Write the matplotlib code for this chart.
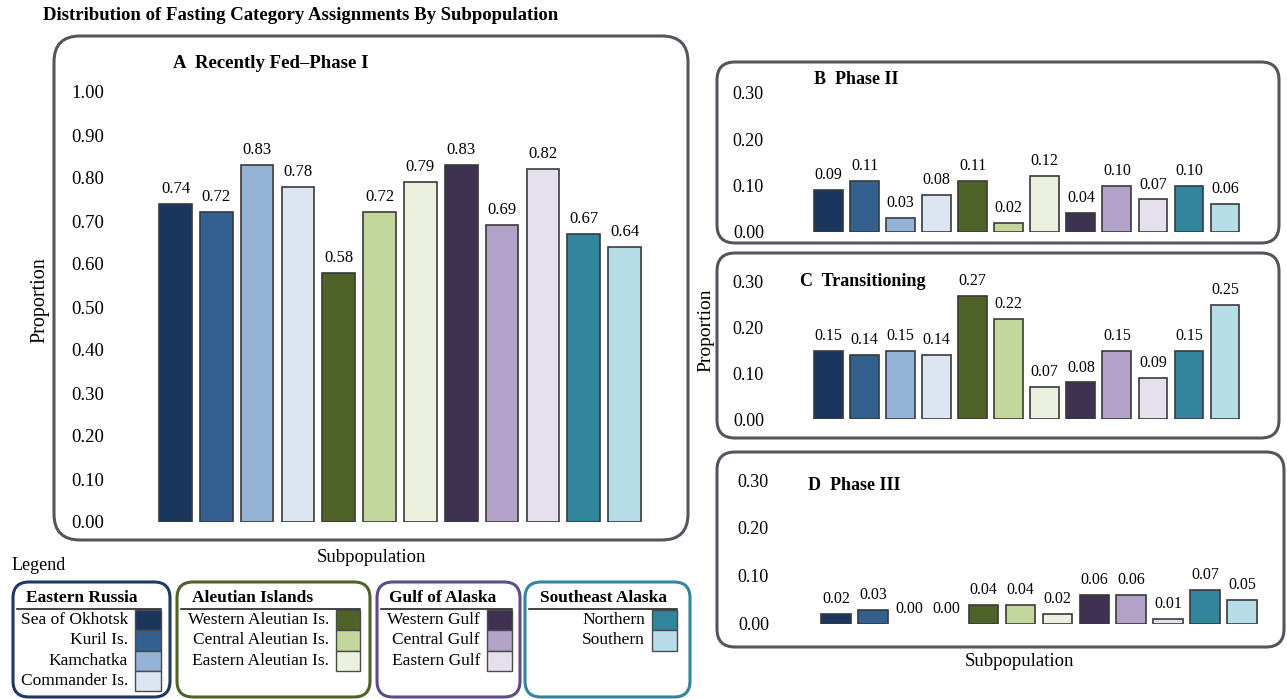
import matplotlib
matplotlib.use("Agg")
import matplotlib.pyplot as plt
from matplotlib.patches import FancyBboxPatch, Rectangle

plt.rcParams['font.family'] = ['Liberation Serif', 'DejaVu Serif']

# subpopulations in plotting order, grouped by region
regions = ['Eastern Russia', 'Aleutian Islands', 'Gulf of Alaska', 'Southeast Alaska']
region_members = [
    ['Sea of Okhotsk', 'Kuril Is.', 'Kamchatka', 'Commander Is.'],
    ['Western Aleutian Is.', 'Central Aleutian Is.', 'Eastern Aleutian Is.'],
    ['Western Gulf', 'Central Gulf', 'Eastern Gulf'],
    ['Northern', 'Southern'],
]
bar_colors = ['#1b365d', '#34608f', '#95b3d7', '#dce6f2',
              '#4f6228', '#c3d69b', '#ebf1de',
              '#3f3151', '#b3a2c7', '#e5e0ec',
              '#31859c', '#b7dee8']
region_edge = ['#1f3864', '#4f6228', '#5f4b8b', '#31859c']

recently_fed = [0.74, 0.72, 0.83, 0.78, 0.58, 0.72, 0.79, 0.83, 0.69, 0.82, 0.67, 0.64]
phase_2 = [0.09, 0.11, 0.03, 0.08, 0.11, 0.02, 0.12, 0.04, 0.10, 0.07, 0.10, 0.06]
transitioning = [0.15, 0.14, 0.15, 0.14, 0.27, 0.22, 0.07, 0.08, 0.15, 0.09, 0.15, 0.25]
phase_3 = [0.02, 0.03, 0.00, 0.00, 0.04, 0.04, 0.02, 0.06, 0.06, 0.01, 0.07, 0.05]

yticks_a = [0.0, 0.1, 0.2, 0.3, 0.4, 0.5, 0.6, 0.7, 0.8, 0.9, 1.0]
yticks_small = [0.0, 0.1, 0.2, 0.3]

W, H = 1287, 699
fig = plt.figure(figsize=(W / 100, H / 100), dpi=100)

# full-figure layer in pixel units for frames, titles and the legend
bg = fig.add_axes([0, 0, 1, 1])
bg.set_xlim(0, W)
bg.set_ylim(H, 0)
bg.axis('off')


def frame(x0, x1, y0, y1, color='#55555f', lw=2.2, r=22):
    bg.add_patch(FancyBboxPatch((x0, y0), x1 - x0, y1 - y0,
                                boxstyle=f"round,pad=0,rounding_size={r}",
                                fc='none', ec=color, lw=lw))


def bar_panel(values, yticks, c0, pitch, left, right, y0, ytop, tick_fs, val_fs):
    top = yticks[-1]
    ax = fig.add_axes([left / W, 1 - y0 / H, (right - left) / W, (y0 - ytop) / H])
    ax.patch.set_alpha(0)
    x = list(range(len(values)))
    # zero-height bars get no outline
    edges = ['#3a3a3a' if v > 0 else 'none' for v in values]
    ax.bar(x, values, width=0.8, color=bar_colors, edgecolor=edges, lw=1.2)
    for xi, v in zip(x, values):
        ax.annotate(f"{v:.2f}", (xi, v), xytext=(0, 5), textcoords='offset points',
                    ha='center', va='bottom', fontsize=val_fs)
    ax.set_xlim((left - c0) / pitch, (right - c0) / pitch)
    ax.set_ylim(0, top)
    ax.set_yticks(yticks)
    ax.set_yticklabels([f"{t:.2f}" for t in yticks], fontsize=tick_fs)
    ax.tick_params(axis='y', length=0, pad=8)
    ax.set_xticks([])
    for s in ax.spines.values():
        s.set_visible(False)
    return ax


# panel A
frame(54, 688, 36, 540, r=26)
bar_panel(recently_fed, yticks_a, 175.5, 40.82, 115, 662, 522, 92, 13.5, 12)
bg.text(173, 64, "A  Recently Fed\u2013Phase I", fontsize=13.5, fontweight='bold', va='center')
bg.text(40, 300, "Proportion", fontsize=14.5, rotation=90, ha='center', va='center')
bg.text(371, 558, "Subpopulation", fontsize=13.5, ha='center', va='center')

# panels B, C, D
frame(717, 1279, 62, 243, r=18)
bar_panel(phase_2, yticks_small, 828.5, 36.05, 775, 1262, 232, 92.5, 13, 11.5)
bg.text(814, 80, "B  Phase II", fontsize=13, fontweight='bold', va='center')

frame(717, 1279, 253, 438, r=18)
bar_panel(transitioning, yticks_small, 828.5, 36.05, 775, 1262, 419, 282, 13, 11.5)
bg.text(800, 282, "C  Transitioning", fontsize=13, fontweight='bold', va='center')
bg.text(706, 330, "Proportion", fontsize=14, rotation=90, ha='center', va='center')

frame(717, 1284, 452, 647, r=18)
bar_panel(phase_3, yticks_small, 836, 36.9, 780, 1270, 624, 480, 13, 11.5)
bg.text(808, 486, "D  Phase III", fontsize=13, fontweight='bold', va='center')
bg.text(1020, 662, "Subpopulation", fontsize=13.5, ha='center', va='center')

# figure title
bg.text(43, 16, "Distribution of Fasting Category Assignments By Subpopulation",
        fontsize=13.5, fontweight='bold', va='center')

# legend: one rounded box per region with stacked colour swatches
bg.text(12, 565, "Legend", fontsize=13, va='center')
boxes = [(13, 170, 26, 135, 161), (177, 370, 192, 336, 360),
         (377, 520, 389, 487, 512), (525, 690, 540, 652, 677)]
row_h = 20.3
k = 0
for g, (bx0, bx1, tx, sw0, sw1) in enumerate(boxes):
    frame(bx0, bx1, 582, 697, color=region_edge[g], lw=2.2, r=16)
    bg.text(tx, 598, regions[g], fontsize=12.5, fontweight='bold', va='center')
    bg.plot([bx0 + 4, sw1], [609, 609], color='#222222', lw=1.2)
    for i, name in enumerate(region_members[g]):
        ry = 610 + i * row_h
        bg.add_patch(Rectangle((sw0, ry), sw1 - sw0, row_h, fc=bar_colors[k],
                               ec='#4a4a4a', lw=1))
        bg.text(sw0 - 7, ry + row_h / 2, name, fontsize=12.5, ha='right', va='center')
        k += 1

fig.savefig("out.png", dpi=100)
